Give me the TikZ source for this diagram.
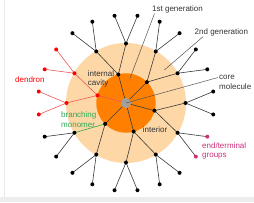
\documentclass[tikz,border=0pt]{standalone}
\usepackage{fontspec}
\setmainfont{Liberation Sans}
\begin{document}
\begin{tikzpicture}[x=1pt,y=1pt,
  dot/.style={circle,fill=black,inner sep=0pt,minimum size=4pt},
  reddot/.style={dot,fill=red},
  magdot/.style={dot,fill=mag},
  bond/.style={draw=bondc,line width=0.6pt},
  redbond/.style={draw=redl,line width=0.6pt},
  greenbond/.style={draw=greenc,line width=0.6pt},
  leader/.style={draw=leadc,line width=0.5pt},
  lbl/.style={inner sep=0pt,anchor=west,align=left,font=\fontsize{8}{9.6}\selectfont}]
\definecolor{bondc}{HTML}{3A3A3A}
\definecolor{redl}{HTML}{F05858}
\definecolor{greenc}{HTML}{2EAA55}
\definecolor{mag}{HTML}{D0307A}
\definecolor{leadc}{HTML}{555555}
\definecolor{peach}{HTML}{FDD7A6}
\definecolor{dorange}{HTML}{FF8000}
\definecolor{coreg}{HTML}{A0A0A0}
\definecolor{txt}{HTML}{333333}
\useasboundingbox (0,0) rectangle (254,-202);
\fill[white] (0,0) rectangle (254,-202);
\fill[black!7] (0,-197) rectangle (254,-202);
\draw[black!9,line width=1pt] (4.5,0) -- (4.5,-197);
% discs
\fill[peach] (126,-103) circle (60);
\fill[dorange] (126,-103) circle (29.7);
\node[circle,fill=coreg,inner sep=0pt,minimum size=10pt] (core) at (126,-103) {};
\begin{scope}[shift={(126,-103)}]
\foreach \k in {0,...,5}{
  \pgfmathsetmacro{\a}{105+60*\k}
  \pgfmathsetmacro{\sa}{\a-15}
  \pgfmathsetmacro{\sb}{\a+15}
  \coordinate (f\k) at (\a:29.5pt);
  \coordinate (s\k a) at (\sa:59.5pt);
  \coordinate (s\k b) at (\sb:59.5pt);
  \coordinate (e\k a1) at (\sa-7.5:88pt);
  \coordinate (e\k a2) at (\sa+7.5:88pt);
  \coordinate (e\k b1) at (\sb-7.5:88pt);
  \coordinate (e\k b2) at (\sb+7.5:88pt);
}
\end{scope}
% bonds
\foreach \k in {0,2,3,4,5}{
  \draw[bond] (core) -- (f\k);
  \foreach \s in {a,b}{
    \draw[bond] (s\k\s) -- (e\k\s 1);
    \draw[bond] (s\k\s) -- (e\k\s 2);
  }
}
\foreach \k in {0,3,4,5}{
  \draw[bond] (f\k) -- (s\k a);
  \draw[bond] (f\k) -- (s\k b);
}
\draw[greenbond] (f2) -- (s2a);
\draw[bond] (f2) -- (s2b);
% dendron in red
\draw[redbond] (core) -- (f1);
\draw[redbond] (f1) -- (s1a);
\draw[redbond] (f1) -- (s1b);
\foreach \s in {a,b}{
  \draw[redbond] (s1\s) -- (e1\s 1);
  \draw[redbond] (s1\s) -- (e1\s 2);
}
% dots
\foreach \k in {0,2,3,4,5}{
  \node[dot] (nf\k) at (f\k) {};
  \foreach \s in {a,b}{
    \node[dot] (ns\k\s) at (s\k\s) {};
  }
}
\foreach \k in {0,2,3,5}{
  \foreach \s in {a,b}{
    \node[dot] (ne\k\s1) at (e\k\s 1) {};
    \node[dot] (ne\k\s2) at (e\k\s 2) {};
  }
}
\node[magdot] (ne4a1) at (e4a1) {};
\node[magdot] (ne4a2) at (e4a2) {};
\node[dot] (ne4b1) at (e4b1) {};
\node[dot] (ne4b2) at (e4b2) {};
\node[reddot] (nf1) at (f1) {};
\foreach \s in {a,b}{
  \node[reddot] (ns1\s) at (s1\s) {};
  \node[reddot] (ne1\s1) at (e1\s 1) {};
  \node[reddot] (ne1\s2) at (e1\s 2) {};
}
% labels
\node[lbl,text=txt] (gen1) at (152,-9.5) {1st generation};
\coordinate (g1a) at (154.5,-13.5);
\coordinate (g1b) at (130,-78.3);
\draw[leader] (g1a) -- (g1b);
\node[lbl,text=txt] (gen2) at (194.5,-32.5) {2nd generation};
\coordinate (g2a) at (203,-36.7);
\coordinate (g2b) at (164.3,-70);
\draw[leader] (g2a) -- (g2b);
\node[lbl,text=txt] (coremol) at (219,-82.5) {core\\molecule};
\coordinate (cma) at (218,-77.5);
\draw[leader] (cma) -- (core.center);
\node[lbl,text=txt] (cav) at (87.7,-79) {internal\\cavity};
\node[lbl,text=red] (dend) at (15,-80) {dendron};
\node[lbl,text=greenc] (bm) at (61,-119.5) {branching\\monomer};
\node[lbl,text=txt] (inter) at (142.7,-129.5) {interior};
\node[lbl,text=mag] (endg) at (202,-151) {end/terminal\\groups};
\end{tikzpicture}
\end{document}
